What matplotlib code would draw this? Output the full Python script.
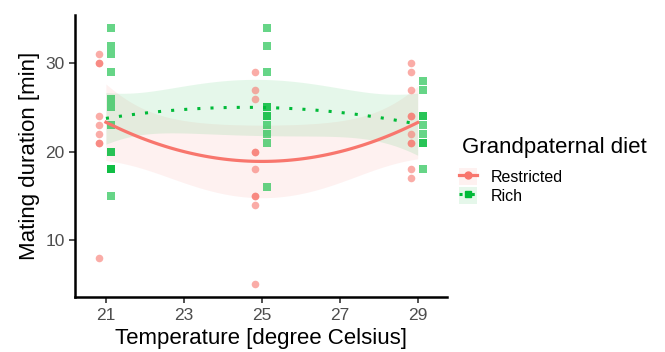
import numpy as np
import matplotlib
matplotlib.use("Agg")
import matplotlib.pyplot as plt
from matplotlib.lines import Line2D
from matplotlib.patches import Patch
from matplotlib.legend_handler import HandlerTuple

plt.rcParams['font.family'] = ['Liberation Sans', 'DejaVu Sans']

# mating duration (min) per temperature
restricted = {
    21: [31, 30, 30, 24, 23, 22, 21, 21, 8],
    25: [29, 27, 26, 20, 20, 18, 15, 15, 14, 5],
    29: [30, 29, 27, 24, 24, 22, 21, 21, 18, 17],
}
rich = {
    21: [34, 32, 31, 29, 26, 25, 23, 20, 20, 18, 18, 18, 15],
    25: [34, 32, 29, 25, 25, 24, 24, 23, 22, 21, 16],
    29: [28, 27, 24, 24, 23, 22, 21, 21, 18],
}
temp_ticks = [21, 23, 25, 27, 29]
groups = ['Restricted', 'Rich']
colors = {'Restricted': '#F8766D', 'Rich': '#00BA38'}
dodge = {'Restricted': -0.17, 'Rich': 0.14}


def flatten(d):
    x, y = [], []
    for t, vals in d.items():
        x += [t] * len(vals)
        y += vals
    return np.array(x, float), np.array(y, float)


def tcrit(df):
    z = 1.959964
    return z + (z**3 + z) / (4 * df) + (5 * z**5 + 16 * z**3 + 3 * z) / (96 * df**2)


def quad_fit(x, y, grid):
    X = np.column_stack([np.ones_like(x), x, x**2])
    beta, *_ = np.linalg.lstsq(X, y, rcond=None)
    resid = y - X @ beta
    df = len(y) - 3
    s2 = resid @ resid / df
    inv = np.linalg.inv(X.T @ X)
    G = np.column_stack([np.ones_like(grid), grid, grid**2])
    fit = G @ beta
    se = np.sqrt(s2 * np.sum((G @ inv) * G, axis=1))
    t = tcrit(df)
    return fit, fit - t * se, fit + t * se


fig = plt.figure(figsize=(6.65, 3.52), dpi=100)
ax = fig.add_axes([0.113, 0.156, 0.559, 0.801])

grid = np.linspace(21, 29, 80)
data = {'Restricted': restricted, 'Rich': rich}
handles = []
for g in groups:
    x, y = flatten(data[g])
    fit, lo, hi = quad_fit(x, y, grid)
    c = colors[g]
    ax.fill_between(grid, lo, hi, color=c, alpha=0.1, lw=0, zorder=1)
    if g == 'Restricted':
        ax.scatter(x + dodge[g], y, s=30, marker='o', color=c, alpha=0.6, lw=0, zorder=2)
        ax.plot(grid, fit, color=c, lw=2.3, zorder=3)
        line = Line2D([], [], color=c, lw=2.3, marker='o', markersize=5, alpha=1)
    else:
        ax.scatter(x + dodge[g], y, s=36, marker='s', color=c, alpha=0.6, lw=0, zorder=2)
        ax.plot(grid, fit, color=c, lw=2.2, linestyle=(0, (1, 3.3)),
                dash_capstyle='butt', zorder=3)
        line = Line2D([], [], color=c, lw=2.2, marker='s', markersize=5,
                      linestyle=(0, (1, 1)))
    handles.append((Patch(facecolor=c, alpha=0.1, lw=0), line))

ax.set_xlim(20.21, 29.75)
ax.set_ylim(3.55, 35.45)
ax.set_xticks(temp_ticks)
ax.set_yticks([10, 20, 30])
for s in ['top', 'right']:
    ax.spines[s].set_visible(False)
for s in ['left', 'bottom']:
    ax.spines[s].set_linewidth(1.8)
ax.tick_params(length=4, width=1.2, color='#333333', labelcolor='#4D4D4D', labelsize=12.5)
ax.set_xlabel('Temperature [degree Celsius]', fontsize=16, labelpad=4)
ax.set_ylabel('Mating duration [min]', fontsize=16, labelpad=4)

fig.text(462 / 665, 1 - 148 / 352, 'Grandpaternal diet', fontsize=16,
         ha='left', va='center')
fig.legend(handles, groups, handler_map={tuple: HandlerTuple(ndivide=1)},
           fontsize=11.5, loc='upper left', bbox_to_anchor=(459 / 665, 1 - 168 / 352),
           frameon=False, borderpad=0, borderaxespad=0,
           handlelength=1.1, handleheight=1.3, labelspacing=0.1,
           handletextpad=0.9)

fig.savefig('out.png', dpi=100)
